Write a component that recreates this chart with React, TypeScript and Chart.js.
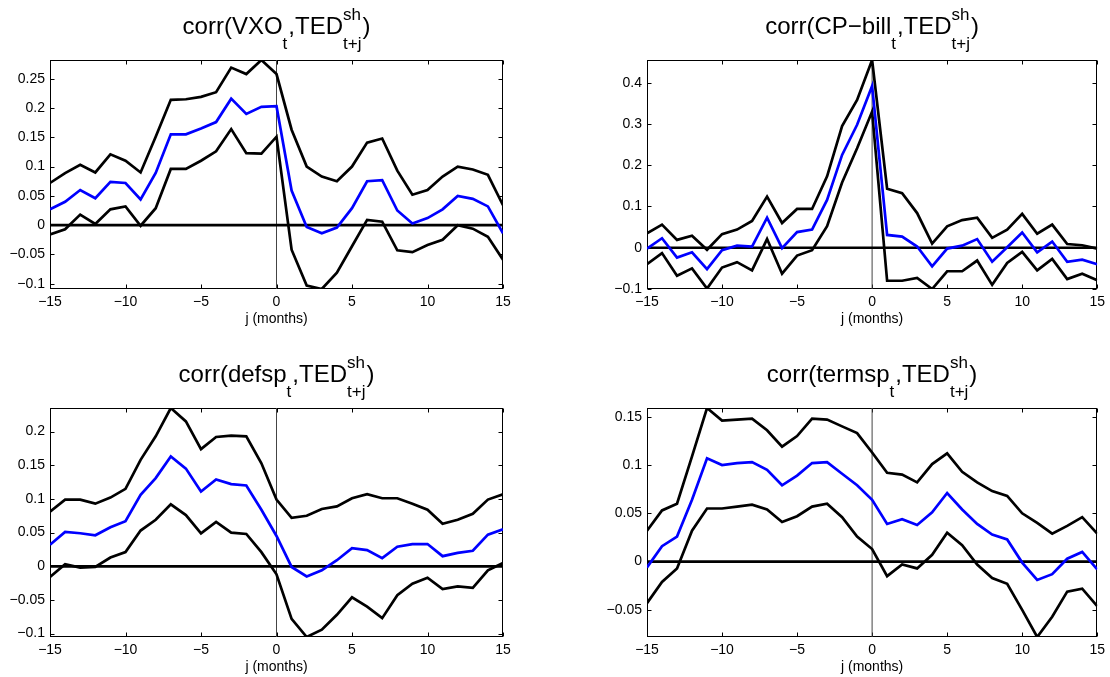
import React, { useEffect, useRef } from "react";
import { Chart, registerables } from "chart.js";

Chart.register(...registerables);

const FONT = '"Liberation Sans", Arial, Helvetica, sans-serif';

// lag j in months
const monthsJ = [-15, -14, -13, -12, -11, -10, -9, -8, -7, -6, -5, -4, -3, -2, -1, 0, 1, 2, 3, 4, 5, 6, 7, 8, 9, 10, 11, 12, 13, 14, 15];
const xTickValues = [-15, -10, -5, 0, 5, 10, 15];
const xLabel = "j (months)";

// Panel 1: corr(VXO_t, TED^sh_t+j)
const vxoUpper = [0.072, 0.089, 0.103, 0.090, 0.121, 0.110, 0.090, 0.151, 0.214, 0.215, 0.219, 0.227, 0.269, 0.258, 0.282, 0.258, 0.163, 0.100, 0.083, 0.075, 0.100, 0.141, 0.148, 0.093, 0.052, 0.060, 0.083, 0.100, 0.095, 0.086, 0.034];
const vxoMid = [0.027, 0.040, 0.060, 0.046, 0.074, 0.072, 0.044, 0.089, 0.155, 0.155, 0.165, 0.176, 0.216, 0.190, 0.202, 0.203, 0.059, -0.003, -0.014, -0.004, 0.029, 0.075, 0.077, 0.025, 0.003, 0.012, 0.027, 0.050, 0.045, 0.032, -0.014];
const vxoLower = [-0.016, -0.007, 0.018, 0.002, 0.027, 0.032, -0.001, 0.029, 0.096, 0.096, 0.110, 0.126, 0.164, 0.123, 0.122, 0.151, -0.042, -0.103, -0.109, -0.081, -0.036, 0.009, 0.006, -0.043, -0.046, -0.034, -0.025, 0.000, -0.006, -0.020, -0.059];
const vxoYTicks = [-0.1, -0.05, 0, 0.05, 0.1, 0.15, 0.2, 0.25];

// Panel 2: corr(CP-bill_t, TED^sh_t+j)
const cpUpper = [0.035, 0.056, 0.019, 0.029, -0.005, 0.033, 0.044, 0.065, 0.124, 0.060, 0.094, 0.094, 0.173, 0.295, 0.358, 0.455, 0.143, 0.132, 0.084, 0.010, 0.052, 0.067, 0.073, 0.024, 0.044, 0.082, 0.034, 0.056, 0.009, 0.006, -0.002];
const cpMid = [-0.002, 0.023, -0.024, -0.011, -0.052, -0.006, 0.005, 0.003, 0.073, -0.001, 0.038, 0.044, 0.116, 0.225, 0.298, 0.392, 0.031, 0.027, 0.003, -0.045, -0.002, 0.005, 0.021, -0.034, 0.001, 0.037, -0.011, 0.015, -0.034, -0.029, -0.040];
const cpLower = [-0.040, -0.013, -0.068, -0.050, -0.099, -0.048, -0.035, -0.055, 0.021, -0.063, -0.019, -0.006, 0.052, 0.158, 0.241, 0.330, -0.080, -0.080, -0.073, -0.100, -0.057, -0.057, -0.031, -0.090, -0.037, -0.010, -0.055, -0.027, -0.076, -0.063, -0.079];
const cpYTicks = [-0.1, 0, 0.1, 0.2, 0.3, 0.4];

// Panel 3: corr(defsp_t, TED^sh_t+j)
const defUpper = [0.081, 0.099, 0.099, 0.093, 0.102, 0.115, 0.158, 0.193, 0.235, 0.215, 0.174, 0.192, 0.194, 0.193, 0.153, 0.099, 0.072, 0.075, 0.085, 0.089, 0.101, 0.107, 0.101, 0.101, 0.093, 0.084, 0.063, 0.069, 0.078, 0.099, 0.107];
const defMid = [0.032, 0.051, 0.049, 0.046, 0.058, 0.067, 0.106, 0.131, 0.163, 0.145, 0.111, 0.129, 0.122, 0.120, 0.084, 0.045, -0.001, -0.015, -0.006, 0.009, 0.027, 0.024, 0.012, 0.029, 0.033, 0.033, 0.015, 0.020, 0.023, 0.047, 0.055];
const defLower = [-0.016, 0.003, -0.002, -0.001, 0.013, 0.021, 0.053, 0.069, 0.092, 0.076, 0.049, 0.066, 0.050, 0.048, 0.021, -0.012, -0.078, -0.105, -0.094, -0.072, -0.046, -0.060, -0.077, -0.043, -0.026, -0.017, -0.034, -0.030, -0.032, -0.006, 0.005];
const defYTicks = [-0.1, -0.05, 0, 0.05, 0.1, 0.15, 0.2];

// Panel 4: corr(termsp_t, TED^sh_t+j)
const termUpper = [0.032, 0.053, 0.060, 0.109, 0.159, 0.146, 0.147, 0.148, 0.136, 0.119, 0.130, 0.148, 0.147, 0.140, 0.133, 0.113, 0.092, 0.090, 0.082, 0.101, 0.112, 0.093, 0.082, 0.073, 0.068, 0.050, 0.040, 0.029, 0.037, 0.046, 0.029];
const termMid = [-0.006, 0.016, 0.026, 0.064, 0.107, 0.100, 0.102, 0.103, 0.095, 0.079, 0.089, 0.102, 0.103, 0.091, 0.079, 0.064, 0.039, 0.044, 0.038, 0.051, 0.071, 0.054, 0.039, 0.028, 0.023, -0.001, -0.019, -0.013, 0.003, 0.010, -0.008];
const termLower = [-0.043, -0.021, -0.007, 0.032, 0.055, 0.055, 0.057, 0.059, 0.054, 0.041, 0.047, 0.057, 0.060, 0.046, 0.026, 0.013, -0.015, -0.003, -0.007, 0.007, 0.030, 0.017, -0.003, -0.017, -0.023, -0.050, -0.078, -0.057, -0.031, -0.028, -0.046];
const termYTicks = [-0.05, 0, 0.05, 0.1, 0.15];

const titleNames = ["VXO", "CP\u2212bill", "defsp", "termsp"];

const fmt = (v: number) => {
  const r = Math.round(v * 1000) / 1000;
  const s = String(Math.abs(r));
  return r < 0 ? "\u2212" + s : s;
};

type Spec = {
  name: string;
  upper: number[];
  mid: number[];
  lower: number[];
  yTicks: number[];
};

type Layout = {
  left: number; top: number; width: number; height: number;
  plotL: number; plotT: number; plotR: number; plotB: number;
};

function drawTitle(ctx: CanvasRenderingContext2D, name: string, cx: number, base: number) {
  const big = `24px ${FONT}`;
  const small = `17px ${FONT}`;
  const segs: { t: string; kind: "n" | "sub" | "ss"; sup?: string }[] = [
    { t: "corr(" + name, kind: "n" },
    { t: "t", kind: "sub" },
    { t: ",TED", kind: "n" },
    { t: "t+j", kind: "ss", sup: "sh" },
    { t: ")", kind: "n" },
  ];
  const widths = segs.map((s) => {
    if (s.kind === "n") { ctx.font = big; return ctx.measureText(s.t).width; }
    ctx.font = small;
    const w1 = ctx.measureText(s.t).width;
    const w2 = s.sup ? ctx.measureText(s.sup).width : 0;
    return Math.max(w1, w2) + 1;
  });
  const total = widths.reduce((a, b) => a + b, 0);
  let x = cx - total / 2;
  ctx.fillStyle = "#000";
  ctx.textAlign = "left";
  ctx.textBaseline = "alphabetic";
  segs.forEach((s, i) => {
    if (s.kind === "n") {
      ctx.font = big; ctx.fillText(s.t, x, base);
    } else {
      ctx.font = small;
      ctx.fillText(s.t, x, base + 15);
      if (s.sup) ctx.fillText(s.sup, x, base - 14);
    }
    x += widths[i];
  });
}

function Panel({ spec, layout }: { spec: Spec; layout: Layout }) {
  const ref = useRef<HTMLCanvasElement>(null);
  useEffect(() => {
    const canvas = ref.current!;
    const { left, top, width, height, plotL, plotT, plotR, plotB } = layout;
    const yAxisW = plotL - left;
    const padTop = plotT - top;
    const padRight = left + width - plotR;
    const xAxisH = top + height - plotB;
    const all = [...spec.upper, ...spec.mid, ...spec.lower];
    const yMin = Math.min(...all);
    const yMax = Math.max(...all);
    const pts = (arr: number[]) => arr.map((y, i) => ({ x: monthsJ[i], y }));
    const line = (data: any, color: string, w: number) => ({
      data, borderColor: color, backgroundColor: color, borderWidth: w,
      pointRadius: 0, tension: 0, fill: false,
    });
    const deco = {
      id: "deco",
      beforeDatasetsDraw(chart: any) {
        const { ctx, chartArea: a, scales } = chart;
        ctx.save();
        ctx.strokeStyle = "#000";
        ctx.lineWidth = 1;
        const L = Math.round(a.left) + 0.5, R = Math.round(a.right) - 0.5;
        const T = Math.round(a.top) + 0.5, B = Math.round(a.bottom) - 0.5;
        ctx.strokeRect(L, T, R - L, B - T);
        const tl = 4;
        ctx.beginPath();
        spec.yTicks.forEach((v) => {
          const y = Math.round(scales.y.getPixelForValue(v)) + 0.5;
          ctx.moveTo(L, y); ctx.lineTo(L + tl, y);
          ctx.moveTo(R, y); ctx.lineTo(R - tl, y);
        });
        xTickValues.forEach((v) => {
          const x = Math.round(scales.x.getPixelForValue(v)) + 0.5;
          ctx.moveTo(x, B); ctx.lineTo(x, B - tl);
          ctx.moveTo(x, T); ctx.lineTo(x, T + tl);
        });
        ctx.stroke();
        ctx.restore();
      },
      afterDraw(chart: any) {
        const { ctx, chartArea: a } = chart;
        ctx.save();
        const cx = (a.left + a.right) / 2;
        drawTitle(ctx, spec.name, cx, a.top - 26);
        ctx.font = `14px ${FONT}`;
        ctx.fillStyle = "#000";
        ctx.textAlign = "center";
        ctx.textBaseline = "alphabetic";
        ctx.fillText(xLabel, cx, a.bottom + 34);
        ctx.restore();
      },
    };
    const chart = new Chart(canvas, {
      type: "line",
      data: {
        datasets: [
          line(pts(spec.mid), "#0000ff", 2.7),
          line(pts(spec.upper), "#000000", 2.7),
          line(pts(spec.lower), "#000000", 2.7),
          line([{ x: monthsJ[0], y: 0 }, { x: monthsJ[monthsJ.length - 1], y: 0 }], "#000000", 2.7),
          line([{ x: 0, y: yMin }, { x: 0, y: yMax }], "#444444", 1),
        ] as any,
      },
      options: {
        responsive: false,
        maintainAspectRatio: false,
        animation: false,
        devicePixelRatio: 1,
        layout: { padding: { top: padTop, right: padRight, left: 0, bottom: 0 } },
        plugins: { legend: { display: false }, title: { display: false }, tooltip: { enabled: false } },
        events: [],
        scales: {
          x: {
            type: "linear",
            min: monthsJ[0],
            max: monthsJ[monthsJ.length - 1],
            grid: { display: false, drawTicks: false },
            border: { display: false },
            ticks: {
              color: "#000", font: { family: FONT, size: 14 }, padding: 5,
              maxRotation: 0, autoSkip: false, callback: (v: any) => fmt(Number(v)),
            },
            afterBuildTicks: (s: any) => { s.ticks = xTickValues.map((v) => ({ value: v })); },
            afterFit: (s: any) => { s.height = xAxisH; },
          },
          y: {
            type: "linear",
            min: yMin,
            max: yMax,
            grid: { display: false, drawTicks: false },
            border: { display: false },
            ticks: {
              color: "#000", font: { family: FONT, size: 14 }, padding: 5,
              autoSkip: false, callback: (v: any) => fmt(Number(v)),
            },
            afterBuildTicks: (s: any) => { s.ticks = spec.yTicks.map((v) => ({ value: v })); },
            afterFit: (s: any) => { s.width = yAxisW; },
          },
        },
      } as any,
      plugins: [deco],
    });
    return () => chart.destroy();
  }, []);
  return (
    <canvas
      ref={ref}
      width={layout.width}
      height={layout.height}
      style={{ position: "absolute", left: layout.left, top: layout.top, width: layout.width, height: layout.height }}
    />
  );
}

const specs: Spec[] = [
  { name: titleNames[0], upper: vxoUpper, mid: vxoMid, lower: vxoLower, yTicks: vxoYTicks },
  { name: titleNames[1], upper: cpUpper, mid: cpMid, lower: cpLower, yTicks: cpYTicks },
  { name: titleNames[2], upper: defUpper, mid: defMid, lower: defLower, yTicks: defYTicks },
  { name: titleNames[3], upper: termUpper, mid: termMid, lower: termLower, yTicks: termYTicks },
];

const layouts: Layout[] = [
  { left: 0, top: 0, width: 555, height: 338, plotL: 50, plotT: 60, plotR: 503, plotB: 289 },
  { left: 555, top: 0, width: 555, height: 338, plotL: 647, plotT: 60, plotR: 1101, plotB: 289 },
  { left: 0, top: 338, width: 555, height: 339, plotL: 50, plotT: 408, plotR: 503, plotB: 637 },
  { left: 555, top: 338, width: 555, height: 339, plotL: 647, plotT: 408, plotR: 1101, plotB: 637 },
];

export default function App() {
  return (
    <div style={{ position: "absolute", left: 0, top: 0, width: 1110, height: 677, background: "#fff" }}>
      {specs.map((s, i) => (
        <Panel key={i} spec={s} layout={layouts[i]} />
      ))}
    </div>
  );
}
